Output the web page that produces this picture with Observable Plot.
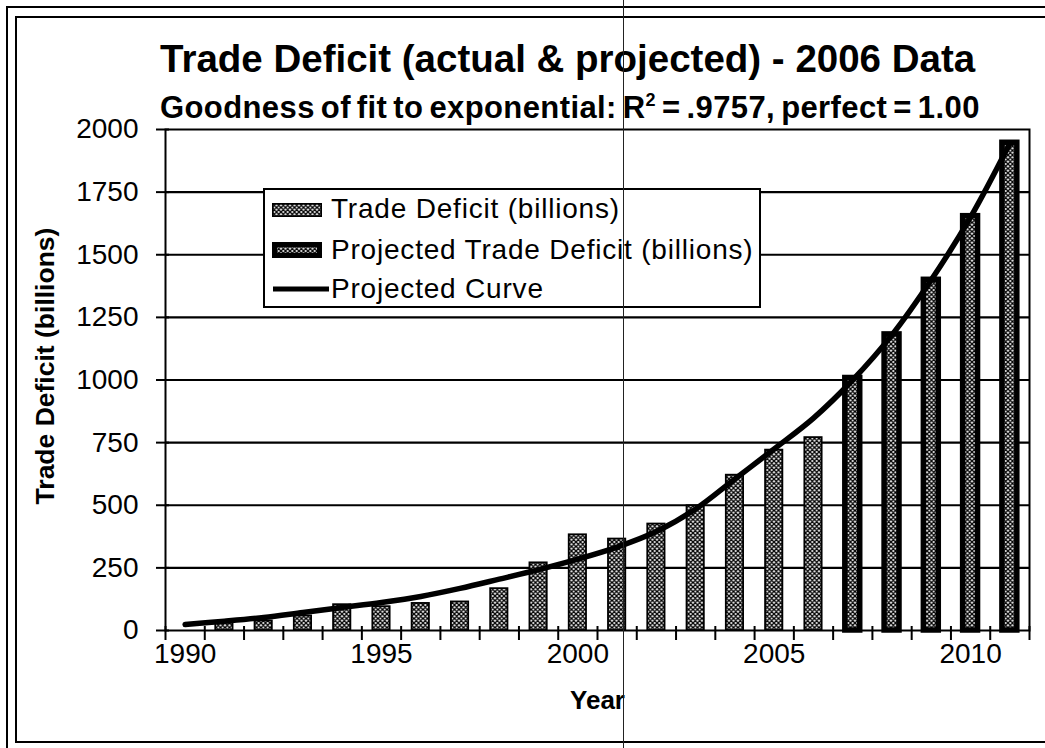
<!DOCTYPE html>
<html>
<head>
<meta charset="utf-8">
<script src="https://cdn.jsdelivr.net/npm/d3@7"></script>
<script src="https://cdn.jsdelivr.net/npm/@observablehq/plot@0.6"></script>
<style>
  html, body { margin: 0; padding: 0; background: #fff; }
  #page { position: relative; width: 1045px; height: 748px; overflow: hidden; font-family: "Liberation Sans", Arial, sans-serif; color: #000; }
  .frame-outer { position: absolute; left: 6px; top: 6px; width: 1100px; height: 760px; border: 2px solid #000; box-sizing: border-box; }
  .frame-inner { position: absolute; left: 15px; top: 16px; width: 1100px; height: 727px; border: 2.5px solid #000; box-sizing: border-box; }
  #title { position: absolute; left: 160px; top: 40px; font-weight: bold; font-size: 38.5px; line-height: 1; white-space: nowrap; }
  #subtitle { position: absolute; left: 160px; top: 92px; font-weight: bold; font-size: 31px; line-height: 1; white-space: nowrap; word-spacing: -3px; letter-spacing: 0.4px; }
  #subtitle sup { font-size: 18px; vertical-align: 12px; line-height: 0; }
  #chart { position: absolute; left: 0; top: 110px; }
  #legend { position: absolute; left: 263px; top: 188px; width: 498px; height: 120px; border: 2px solid #000; background: #fff; box-sizing: border-box; }
  #legend .sw { position: absolute; left: 7px; }
  #legend .lab { position: absolute; left: 66px; font-size: 28px; line-height: 1; white-space: nowrap; letter-spacing: 0.8px; }
  #artifact { position: absolute; left: 623px; top: 0; width: 1px; height: 748px; background: #222; }
</style>
</head>
<body>
<div id="page">
  <div class="frame-outer"></div>
  <div class="frame-inner"></div>
  <div id="title"></div>
  <div id="subtitle"></div>
  <div id="chart"></div>
  <div id="legend"></div>
  <div id="artifact"></div>
</div>
<script>
// ---- Data ----
const titleText = "Trade Deficit (actual & projected) - 2006 Data";
const subtitleParts = ["Goodness of fit to exponential: R", "2", " = .9757, perfect = 1.00"];
const yAxisTitle = "Trade Deficit (billions)";
const xAxisTitle = "Year";
const seriesNames = ["Trade Deficit (billions)", "Projected Trade Deficit (billions)", "Projected Curve"];

const allYears = [1990, 1991, 1992, 1993, 1994, 1995, 1996, 1997, 1998, 1999, 2000,
                  2001, 2002, 2003, 2004, 2005, 2006, 2007, 2008, 2009, 2010, 2011];
const actualYears = [1991, 1992, 1993, 1994, 1995, 1996, 1997, 1998, 1999, 2000,
                     2001, 2002, 2003, 2004, 2005, 2006];
const actualValues = [29, 38, 58, 103, 95, 108, 114, 167, 270, 382,
                      365, 425, 498, 620, 720, 770];
const projectedYears = [2007, 2008, 2009, 2010, 2011];
const projectedValues = [1008, 1182, 1400, 1654, 1947];
const curveValues = [24, 37, 52, 72, 92, 112, 136, 168, 205, 243, 285,
                     333, 395, 485, 605, 725, 848, 1000, 1180, 1400, 1650, 1945];
const yTicks = [0, 250, 500, 750, 1000, 1250, 1500, 1750, 2000];
const xLabelYears = [1990, 1995, 2000, 2005, 2010];

// ---- Tables built from the arrays ----
const actual = actualYears.map((year, i) => ({year, value: actualValues[i]}));
const projected = projectedYears.map((year, i) => ({year, value: projectedValues[i]}));
const curve = allYears.map((year, i) => ({year, value: curveValues[i]}));
const bandEdges = allYears.map(y => y - 0.5).concat([allYears[allYears.length - 1] + 0.5]);
const halfBar = 0.22;
const halfProj = 0.19;

// ---- Titles ----
document.getElementById("title").textContent = titleText;
const sub = document.getElementById("subtitle");
sub.append(subtitleParts[0]);
const sup = document.createElement("sup"); sup.textContent = subtitleParts[1]; sub.append(sup);
sub.append(subtitleParts[2]);

// ---- Chart ----
const font = "Liberation Sans, Arial, sans-serif";
const chart = Plot.plot({
  width: 1045,
  height: 638,
  marginLeft: 165,
  marginRight: 16,
  marginTop: 19,
  marginBottom: 118,
  style: {fontFamily: font, background: "transparent", color: "#000", overflow: "visible"},
  x: {type: "linear", domain: [bandEdges[0], bandEdges[bandEdges.length - 1]], axis: null},
  y: {domain: [0, 2000], axis: null},
  marks: [
    Plot.ruleY(yTicks.filter(v => v > 0 && v < 2000), {stroke: "#000", strokeWidth: 2.2}),
    Plot.rectY(actual, {
      x1: d => d.year - halfBar, x2: d => d.year + halfBar, y: "value",
      fill: "url(#hatch)", stroke: "#000", strokeWidth: 1.8
    }),
    Plot.rectY(projected, {
      x1: d => d.year - halfProj, x2: d => d.year + halfProj, y: "value",
      fill: "url(#hatch)", stroke: "#000", strokeWidth: 5.5
    }),
    Plot.line(curve, {x: "year", y: "value", stroke: "#000", strokeWidth: 5.5, curve: "catmull-rom"}),
    Plot.frame({stroke: "#000", strokeWidth: 2}),
    Plot.axisY({ticks: yTicks, tickSize: 9, tickPadding: 18, fontSize: 28, strokeWidth: 2,
                tickFormat: d => String(d), label: null}),
    Plot.axisY({ticks: yTicks, tickSize: -4, strokeWidth: 2, tickFormat: () => "", label: null}),
    Plot.axisX({ticks: bandEdges, tickSize: 10, strokeWidth: 2, tickFormat: () => "", label: null}),
    Plot.axisX({ticks: bandEdges, tickSize: -4, strokeWidth: 2, tickFormat: () => "", label: null}),
    Plot.axisX({ticks: xLabelYears, tickSize: 0, tickPadding: 13, fontSize: 28,
                tickFormat: d => String(d), label: null}),
    Plot.text([yAxisTitle], {frameAnchor: "left", rotate: -90, dx: -120, dy: -14,
                             textAnchor: "middle", lineAnchor: "middle",
                             fontWeight: "bold", fontSize: 26.5}),
    Plot.text([xAxisTitle], {frameAnchor: "bottom", dy: 70, textAnchor: "middle",
                             lineAnchor: "middle", fontWeight: "bold", fontSize: 26})
  ]
});

d3.select(chart).insert("defs", ":first-child").html(
  `<pattern id="hatch" width="4.5" height="4.5" patternUnits="userSpaceOnUse">
     <rect width="4.5" height="4.5" fill="#fff"/>
     <path d="M0,0L4.5,4.5M4.5,0L0,4.5M-1,3.5L1,5.5M3.5,-1L5.5,1M-1,1L1,-1M3.5,5.5L5.5,3.5" stroke="#000" stroke-width="1.35"/>
   </pattern>`
);
document.getElementById("chart").append(chart);

// ---- Legend ----
const legend = document.getElementById("legend");
const rows = [
  {top: 19, swatch: `<svg class="sw" style="top:13px" width="50" height="14"><rect x="0.8" y="0.8" width="48.4" height="12.4" fill="url(#hatch)" stroke="#000" stroke-width="1.6"/></svg>`},
  {top: 60, swatch: `<svg class="sw" style="top:52px" width="50" height="16"><rect x="2.5" y="2.5" width="45" height="11" fill="url(#hatch)" stroke="#000" stroke-width="5"/></svg>`},
  {top: 99, swatch: `<svg class="sw" style="top:92px" width="58" height="14"><line x1="1" y1="7" x2="57" y2="7" stroke="#000" stroke-width="5"/></svg>`}
];
rows.forEach((r, i) => {
  legend.insertAdjacentHTML("beforeend", r.swatch);
  const lab = document.createElement("div");
  lab.className = "lab";
  lab.style.top = (r.top - 14) + "px";
  lab.textContent = seriesNames[i];
  legend.append(lab);
});
</script>
</body>
</html>
